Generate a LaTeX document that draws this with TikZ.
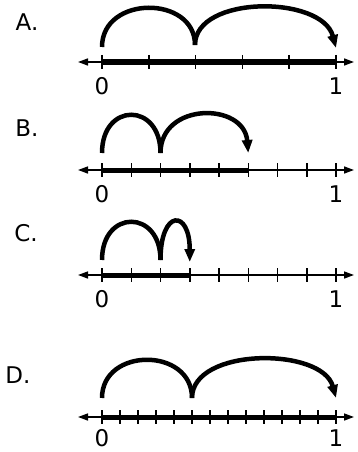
\documentclass[tikz,border=0pt]{standalone}
\usepackage{fontspec}
\setmainfont{DejaVu Sans}
\usetikzlibrary{arrows.meta}

\begin{document}
\begin{tikzpicture}[x=1pt, y=-1pt,
        every node/.style={font=\fontsize{23}{26}\selectfont},
        axis/.style={line width=1.5pt, {Triangle[length=10pt,width=7pt]}-{Triangle[length=10pt,width=7pt]}},
        tickmark/.style={line width=1.5pt},
        part/.style={line width=5pt},
        hop/.style={line width=4.5pt},
        hopend/.style={line width=4.5pt, -{Triangle[length=13pt,width=10pt]}}]
        \useasboundingbox (0,0) rectangle (358,452);

        \node (labA) at (27,22) {A.};
        \draw[axis] (78,62) -- (354,62);
        \draw[part] (102,62) -- (336,62);
        \foreach \i in {0,...,5} \draw[tickmark] ({102+\i*234/5},55) -- ++(0,14);
        \node (zeroA) at (102,86) {0};
        \node (oneA) at (336,86) {1};
        \draw[hop] (102,47) .. controls (102,-5) and (195,-5) .. (195,45);
        \draw[hopend] (195,45) .. controls (195,-5) and (322,-5) .. (336,48);

        \node (labB) at (27,128) {B.};
        \draw[axis] (78,170) -- (354,170);
        \draw[part] (102,170) -- (248.25,170);
        \foreach \i in {0,...,8} \draw[tickmark] ({102+\i*234/8},163) -- ++(0,14);
        \node (zeroB) at (102,194) {0};
        \node (oneB) at (336,194) {1};
        \draw[hop] (102,153) .. controls (102,102) and (160.5,102) .. (160.5,153);
        \draw[hopend] (160.5,153) .. controls (160.5,102) and (244,102) .. (248.25,153);

        \node (labC) at (26,233) {C.};
        \draw[axis] (78,275) -- (354,275);
        \draw[part] (102,275) -- (189.75,275);
        \foreach \i in {0,...,8} \draw[tickmark] ({102+\i*234/8},268) -- ++(0,14);
        \node (zeroC) at (102,299) {0};
        \node (oneC) at (336,299) {1};
        \draw[hop] (102,260) .. controls (102,209) and (160.5,209) .. (160.5,260);
        \draw[hopend] (160.5,260) .. controls (160.5,209) and (189.75,209) .. (189.75,262);

        \node (labD) at (18,375) {D.};
        \draw[axis] (78,417) -- (354,417);
        \draw[part] (102,417) -- (336,417);
        \foreach \i in {0,...,13} \draw[tickmark] ({102+\i*234/13},410) -- ++(0,14);
        \node (zeroD) at (102,438) {0};
        \node (oneD) at (336,438) {1};
        \draw[hop] (102,398) .. controls (102,347) and (192,347) .. (192,398);
        \draw[hopend] (192,398) .. controls (192,347) and (322,347) .. (336,398);
    \end{tikzpicture}
\end{document}
